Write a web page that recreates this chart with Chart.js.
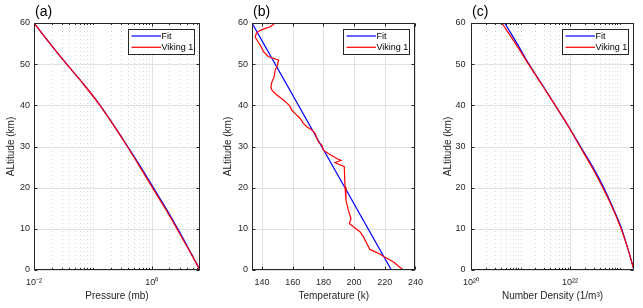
<!DOCTYPE html>
<html><head><meta charset="utf-8">
<script src="https://cdn.jsdelivr.net/npm/chart.js@4.4.1/dist/chart.umd.min.js"></script>
<style>
html,body{margin:0;padding:0;background:#fff;width:643px;height:308px;overflow:hidden}
canvas{position:absolute;top:0}
</style></head><body>
<canvas id="ca" width="215" height="308" style="left:0"></canvas>
<canvas id="cb" width="215" height="308" style="left:215px"></canvas>
<canvas id="cc" width="213" height="308" style="left:430px"></canvas>
<script>
// ---------- data ----------
const altitudes = [0, 5, 10, 15, 20, 25, 30, 35, 40, 45, 50, 55, 60];
const altitudeTicks = [0, 10, 20, 30, 40, 50, 60];

// (a) pressure, mb
const pressureViking = [6.64, 4.26, 2.70, 1.69, 1.03, 0.634, 0.385, 0.229, 0.132, 0.0708, 0.0359, 0.0187, 0.0100];
const pressureFit    = [6.64, 4.33, 2.78, 1.75, 1.07, 0.655, 0.392, 0.231, 0.133, 0.0710, 0.0360, 0.0187, 0.0100];
const pressureTicks = [0.01, 1];
const pressureTickLabels = ['10\u207B\u00B2', '10\u2070'];

// (b) temperature, K
const tempFitAlt = [0, 60];
const tempFit = [224.3, 133.5];
const tempVikingAlt = [60, 59.1, 58.7, 58.0, 57.5, 56.6, 55.8, 54.6, 53.0, 51.8, 51.4, 51.0, 49.8, 48.5, 46.9, 45.7, 44.5, 43.7, 42.5, 41.3, 40.0, 38.8, 38.0, 36.8, 35.6, 34.8, 34.0, 33.2, 32.0, 31.1, 30.3, 29.1, 28.3, 27.1, 26.6, 26.1, 25.7, 25.1, 20.2, 17.0, 14.6, 13.3, 12.5, 11.3, 10.5, 9.3, 8.1, 6.5, 5.0, 3.9, 3.2, 2.0, 0];
const tempViking = [148.6, 145.4, 142.1, 137.8, 136.3, 135.6, 136.8, 138.9, 141.1, 144.3, 147.5, 150.8, 150.1, 148.6, 147.9, 146.5, 145.8, 146.5, 149.7, 154.0, 157.8, 159.5, 161.6, 164.9, 167.0, 169.2, 172.5, 174.6, 175.7, 176.8, 179.0, 180.0, 183.2, 188.7, 191.5, 187.6, 190.0, 193.6, 194.1, 194.7, 196.2, 197.3, 198.0, 196.9, 199.5, 203.8, 206.0, 208.2, 210.3, 216.8, 219.5, 225.5, 232.0];
const tempTicks = [140, 160, 180, 200, 220, 240];

// (c) number density, 1/m^3
const densityViking = [1.95e23, 1.48e23, 1.07e23, 7.24e22, 4.57e22, 2.75e22, 1.58e22, 9.12e21, 5.01e21, 2.69e21, 1.45e21, 7.94e20, 4.17e20];
const densityFit    = [1.95e23, 1.48e23, 1.10e23, 7.41e22, 4.79e22, 2.88e22, 1.62e22, 9.12e21, 5.01e21, 2.75e21, 1.48e21, 8.51e20, 4.79e20];
const densityTicks = [1e20, 1e22];
const densityTickLabels = ['10\u00B2\u2070', '10\u00B2\u00B2'];

// ---------- styling / helpers ----------
const FONT = "'Liberation Sans', Arial, Helvetica, sans-serif";
const AX = '#262626';
const CFG = {};

function logMinors(min, max, majors) {
  const out = [];
  for (let e = Math.floor(Math.log10(min)) - 1; e <= Math.ceil(Math.log10(max)); e++) {
    for (let m = 1; m < 10; m++) {
      const v = m * Math.pow(10, e);
      if (v >= min * 0.9999 && v <= max * 1.0001 && !majors.some(t => Math.abs(t - v) / v < 1e-6)) out.push(v);
    }
  }
  return out;
}

const matlabAxes = {
  id: 'matlabAxes',
  beforeDatasetsDraw(chart) {
    const cfg = CFG[chart.canvas.id];
    if (!cfg) return;
    const {ctx, chartArea: a, scales: {x, y}} = chart;
    ctx.save();
    ctx.lineWidth = 1;
    if (cfg.minorX) {
      ctx.strokeStyle = '#d9d9d9';
      ctx.setLineDash([1, 3]);
      for (const v of cfg.minorX) {
        const px = Math.round(x.getPixelForValue(v)) + 0.5;
        ctx.beginPath(); ctx.moveTo(px, a.top); ctx.lineTo(px, a.bottom); ctx.stroke();
      }
      ctx.setLineDash([]);
    }
    ctx.strokeStyle = '#e0e0e0';
    for (const v of cfg.majorX) {
      const px = Math.round(x.getPixelForValue(v)) + 0.5;
      ctx.beginPath(); ctx.moveTo(px, a.top); ctx.lineTo(px, a.bottom); ctx.stroke();
    }
    for (const v of altitudeTicks) {
      const py = Math.round(y.getPixelForValue(v)) + 0.5;
      ctx.beginPath(); ctx.moveTo(a.left, py); ctx.lineTo(a.right, py); ctx.stroke();
    }
    ctx.restore();
  },
  afterDatasetsDraw(chart) {
    const cfg = CFG[chart.canvas.id];
    if (!cfg) return;
    const {ctx, chartArea: a, scales: {x, y}} = chart;
    ctx.save();
    ctx.strokeStyle = AX;
    ctx.lineWidth = 1;
    const L = Math.round(a.left) + 0.5, R = Math.round(a.right) - 0.5;
    const T = Math.round(a.top) + 0.5, B = Math.round(a.bottom) - 0.5;
    ctx.strokeRect(L, T, R - L, B - T);
    ctx.beginPath();
    for (const v of altitudeTicks) {
      const py = Math.round(y.getPixelForValue(v)) + 0.5;
      ctx.moveTo(L, py); ctx.lineTo(L + 3, py);
      ctx.moveTo(R, py); ctx.lineTo(R - 3, py);
    }
    for (const v of cfg.majorX) {
      const px = Math.round(x.getPixelForValue(v)) + 0.5;
      ctx.moveTo(px, B); ctx.lineTo(px, B - 3);
      ctx.moveTo(px, T); ctx.lineTo(px, T + 3);
    }
    if (cfg.minorX) {
      for (const v of cfg.minorX) {
        const px = Math.round(x.getPixelForValue(v)) + 0.5;
        ctx.moveTo(px, B); ctx.lineTo(px, B - 1.5);
        ctx.moveTo(px, T); ctx.lineTo(px, T + 1.5);
      }
    }
    ctx.stroke();
    // panel label
    ctx.fillStyle = '#000';
    ctx.font = '14px ' + FONT;
    ctx.textBaseline = 'alphabetic';
    ctx.textAlign = 'left';
    ctx.fillText(cfg.panel, a.left + 1, 15.5);
    // legend
    const w = 66, h = 25;
    const bx = Math.round(a.right - 6.5 - w) + 0.5, by = Math.round(a.top + 6) + 0.5;
    ctx.fillStyle = '#fff';
    ctx.fillRect(bx, by, w, h);
    ctx.strokeStyle = AX;
    ctx.lineWidth = 1;
    ctx.strokeRect(bx, by, w, h);
    const ds = chart.data.datasets;
    ctx.font = '9px ' + FONT;
    ctx.textBaseline = 'middle';
    ds.forEach((d, i) => {
      const ly = by + 6.5 + i * 11.3;
      ctx.strokeStyle = d.borderColor;
      ctx.lineWidth = 1.2;
      ctx.beginPath(); ctx.moveTo(bx + 3, ly); ctx.lineTo(bx + 32.5, ly); ctx.stroke();
      ctx.fillStyle = '#000';
      ctx.fillText(d.label, bx + 33, ly + 0.5);
    });
    ctx.restore();
  }
};

function makeChart(id, c) {
  CFG[id] = c;
  const interp = c.smooth ? 'monotone' : 'default';
  const tension = c.smooth ? 0.4 : 0;
  return new Chart(document.getElementById(id), {
    type: 'scatter',
    data: {
      datasets: [
        {label: 'Fit', data: c.fit, borderColor: '#0000ff', backgroundColor: '#0000ff', showLine: true, pointRadius: 0, borderWidth: 1.2, order: 1, cubicInterpolationMode: interp, tension: tension},
        {label: 'Viking 1', data: c.vik, borderColor: '#ff0000', backgroundColor: '#ff0000', showLine: true, pointRadius: 0, borderWidth: 1.2, order: 0, cubicInterpolationMode: interp, tension: tension}
      ]
    },
    options: {
      responsive: false, animation: false, devicePixelRatio: 1,
      layout: {padding: {top: 23, right: c.padRight, left: 0, bottom: 0}},
      plugins: {legend: {display: false}, tooltip: {enabled: false}},
      scales: {
        x: {
          type: c.xType, min: c.xMin, max: c.xMax,
          afterBuildTicks: s => { s.ticks = c.xTicks.map(v => ({value: v})); },
          afterFit: s => { s.height = 38; },
          ticks: {
            callback: (v, i) => c.xLabels ? c.xLabels[i] : String(v),
            font: {family: FONT, size: 9}, color: AX, padding: 7, maxRotation: 0, autoSkip: false
          },
          grid: {display: false, drawTicks: false},
          border: {display: false},
          title: {display: true, text: c.xTitle, font: {family: FONT, size: 10}, color: AX, padding: {top: 0, bottom: 6}}
        },
        y: {
          type: 'linear', min: 0, max: 60,
          afterBuildTicks: s => { s.ticks = altitudeTicks.map(v => ({value: v})); },
          afterFit: s => { s.width = c.yWidth; },
          ticks: {font: {family: FONT, size: 9}, color: AX, padding: c.yPad},
          grid: {display: false, drawTicks: false},
          border: {display: false},
          title: {display: true, text: 'ALtitude (km)', font: {family: FONT, size: 10}, color: AX, padding: {top: c.yTitlePad, bottom: 0}}
        }
      }
    },
    plugins: [matlabAxes]
  });
}

const pts = (xs, hs) => xs.map((v, i) => ({x: v, y: hs[i]}));

makeChart('ca', {
  panel: '(a)', xType: 'logarithmic', xMin: 0.01, xMax: 6.64, smooth: true,
  xTicks: pressureTicks, xLabels: pressureTickLabels, majorX: pressureTicks,
  minorX: logMinors(0.01, 6.64, pressureTicks),
  xTitle: 'Pressure (mb)', padRight: 15, yWidth: 34, yPad: 4, yTitlePad: 5.5,
  fit: pts(pressureFit, altitudes), vik: pts(pressureViking, altitudes)
});
makeChart('cb', {
  panel: '(b)', xType: 'linear', xMin: 133.5, xMax: 240, smooth: false,
  xTicks: tempTicks, xLabels: null, majorX: tempTicks, minorX: null,
  xTitle: 'Temperature (k)', padRight: 12, yWidth: 37, yPad: 4, yTitlePad: 7.3,
  fit: pts(tempFit, tempFitAlt), vik: pts(tempViking, tempVikingAlt)
});
makeChart('cc', {
  panel: '(c)', xType: 'logarithmic', xMin: 1e20, xMax: 1.95e23, smooth: true,
  xTicks: densityTicks, xLabels: densityTickLabels, majorX: densityTicks,
  minorX: logMinors(1e20, 1.95e23, densityTicks),
  xTitle: 'Number Density (1/m\u00B3)', padRight: 9, yWidth: 41, yPad: 5.5, yTitlePad: 12.5,
  fit: pts(densityFit, altitudes), vik: pts(densityViking, altitudes)
});
</script>
</body></html>
